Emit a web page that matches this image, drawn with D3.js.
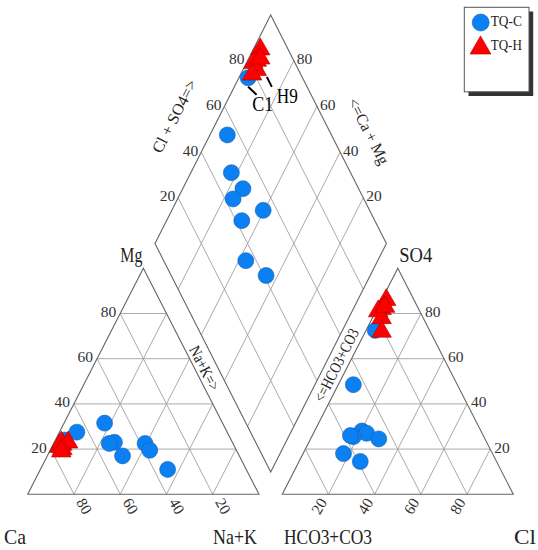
<!DOCTYPE html>
<html><head><meta charset="utf-8">
<script src="https://cdn.jsdelivr.net/npm/d3@7"></script>
<style>body{margin:0;background:#fff}</style>
</head><body>
<script>
// ---- data (percent) ----
const seriesNames = ["TQ-C", "TQ-H"];
const tickValues = [20, 40, 60, 80];
// TQ-C cations
const cCa  = [72, 65, 51, 51, 53.5, 38, 50.5, 37.5, 34];
const cMg  = [24, 27.5, 31.5, 23, 22.5, 22.5, 17, 19.5, 11];
const cNaK = [4, 7.5, 17.5, 26, 24, 39.5, 32.5, 43, 55];
// TQ-C anions
const cHCO3 = [23.5, 45, 51.5, 50, 56.5, 46, 57.5, 64.5, 59];
const cSO4  = [72.5, 48.5, 28, 27, 25.5, 24.5, 26, 18, 14.5];
const cCl   = [4, 6.5, 20.5, 23, 18, 29.5, 16.5, 17.5, 26.5];
// TQ-H cations
const hCa  = [76, 74, 74, 71, 75, 76];
const hMg  = [21, 22, 23, 23, 20, 19];
const hNaK = [3, 4, 3, 6, 5, 5];
// TQ-H anions
const hHCO3 = [12, 16, 18, 18, 21, 14];
const hSO4  = [86, 82, 81, 78, 72, 83];
const hCl   = [2, 2, 1, 4, 7, 3];
// point labels
const labelText = ["C1", "H9"];

// ---- layout ----
const W = 538, H = 550;
const svg = d3.select("body").append("svg").attr("width", W).attr("height", H);
const FONT = "'Liberation Serif','DejaVu Serif',serif";

const xL = d3.scaleLinear().domain([0, 1]).range([27.7, 259]);
const xR = d3.scaleLinear().domain([0, 1]).range([282.3, 513.3]);
const yT = d3.scaleLinear().domain([0, 1]).range([494.3, 268.3]);
const xD = d3.scaleLinear().domain([-1, 1]).range([155, 386.4]);
const yD = d3.scaleLinear().domain([0, 2]).range([472, 15]);

const cat = (mg, nak) => [xL(nak / 100 + mg / 200), yT(mg / 100)];
const an = (so4, cl) => [xR(cl / 100 + so4 / 200), yT(so4 / 100)];
const dia = (nak, sc) => { const a = 1 - nak / 100, b = sc / 100; return [xD(b - a), yD(a + b)]; };

const gridG = svg.append("g").attr("fill", "none").attr("stroke", "#a0a0a0").attr("stroke-width", 0.9);
const line = (g, p, q) => g.append("line").attr("x1", p[0]).attr("y1", p[1]).attr("x2", q[0]).attr("y2", q[1]);

tickValues.forEach(k => {
  line(gridG, cat(k, 0), cat(k, 100 - k));
  line(gridG, cat(0, k), cat(100 - k, k));
  line(gridG, cat(0, 100 - k), cat(100 - k, 0));
  line(gridG, an(k, 0), an(k, 100 - k));
  line(gridG, an(0, k), an(100 - k, k));
  line(gridG, an(0, 100 - k), an(100 - k, 0));
  line(gridG, dia(100 - k, 0), dia(100 - k, 100));
  line(gridG, dia(0, k), dia(100, k));
});

const outG = svg.append("g").attr("fill", "none").attr("stroke", "#666").attr("stroke-width", 1.1);
outG.append("path").attr("d", d3.line()([cat(0, 0), cat(0, 100), cat(100, 0)]) + "Z");
outG.append("path").attr("d", d3.line()([an(0, 0), an(0, 100), an(100, 0)]) + "Z");
outG.append("path").attr("d", d3.line()([dia(100, 0), dia(0, 0), dia(0, 100), dia(100, 100)]) + "Z");

// text helper with SimSun-like half-width glyphs
function txt(x, y, s, fs, opts = {}) {
  const t = svg.append("text").attr("x", x).attr("y", y).text(s)
    .attr("font-family", FONT).attr("font-size", fs)
    .attr("fill", opts.fill || "#222")
    .attr("text-anchor", opts.anchor || "start")
    .attr("dominant-baseline", opts.base || "auto");
  if (opts.tl !== false) t.attr("textLength", s.length * fs * (opts.w || 0.5)).attr("lengthAdjust", "spacingAndGlyphs");
  if (opts.rot !== undefined) t.attr("transform", `rotate(${opts.rot},${x},${y})`);
  return t;
}

const TF = 15.5, TC = "#333";
tickValues.forEach(k => {
  let p = cat(k, 0); txt(p[0] - 4, p[1], String(k), TF, { anchor: "end", base: "middle", fill: TC });
  p = cat(0, 100 - k); txt(p[0] + 5, p[1] + 6, String(k), TF, { base: "middle", rot: 60, fill: TC });
  p = an(k, 100 - k); txt(p[0] + 4, p[1], String(k), TF, { base: "middle", fill: TC });
  p = an(0, k); txt(p[0] - 4, p[1] + 6, String(k), TF, { anchor: "end", base: "middle", rot: -60, fill: TC });
  p = dia(0, k); txt(p[0] - 3, p[1], String(k), TF, { anchor: "end", base: "middle", fill: TC });
  p = dia(100 - k, 100); txt(p[0] + 3, p[1], String(k), TF, { base: "middle", fill: TC });
});

// axis titles along edges
const AF = 16;
txt(176, 117, "Cl + SO4=>", AF, { anchor: "middle", base: "middle", rot: -63 });
txt(367, 132, "<=Ca + Mg", AF, { anchor: "middle", base: "middle", rot: 63 });
txt(203, 369, "Na+K=>", AF, { anchor: "middle", base: "middle", rot: 63 });
txt(338, 366, "<=HCO3+CO3", AF, { anchor: "middle", base: "middle", rot: -63 });

// corner labels
const CF = 22;
txt(cat(100, 0)[0] - 12, 262, "Mg", CF, { anchor: "middle" });
txt(15, 544, "Ca", CF, { anchor: "middle" });
txt(235, 544, "Na+K", CF, { anchor: "middle" });
txt(an(100, 0)[0] + 18, 262, "SO4", CF, { anchor: "middle" });
txt(328, 544, "HCO3+CO3", CF, { anchor: "middle" });
txt(525, 544, "Cl", CF, { anchor: "middle" });

// ---- points ----
const BLUE = "#0a80f2", RED = "#ff0000";
const circ = d3.symbol().type(d3.symbolCircle).size(Math.PI * 8 * 8);
const tri = d3.symbol().type(d3.symbolTriangle).size(165);
const ptG = svg.append("g");
function drawPts(list, sym, fill, stroke) {
  ptG.selectAll(null).data(list).enter().append("path")
    .attr("d", sym).attr("transform", d => `translate(${d[0]},${d[1]})`)
    .attr("fill", fill).attr("stroke", stroke).attr("stroke-width", 0.6);
}
const cIdx = d3.range(cCa.length), hIdx = d3.range(hCa.length);
const cPts = [].concat(
  cIdx.map(i => cat(cMg[i], cNaK[i])),
  cIdx.map(i => an(cSO4[i], cCl[i])),
  cIdx.map(i => dia(cNaK[i], cSO4[i] + cCl[i])));
const hPts = [].concat(
  hIdx.map(i => cat(hMg[i], hNaK[i])),
  hIdx.map(i => an(hSO4[i], hCl[i])),
  hIdx.map(i => dia(hNaK[i], hSO4[i] + hCl[i])));
drawPts(cPts, circ, BLUE, "#1a5fb0");
drawPts(hPts, tri, RED, "#b00000");

// point annotations
const annG = svg.append("g").attr("stroke", "#000").attr("stroke-width", 2);
let pc = dia(cNaK[0], cSO4[0] + cCl[0]);
line(annG, [pc[0], pc[1] + 9], [pc[0] + 8.5, pc[1] + 17]);
txt(pc[0] + 4, pc[1] + 33.5, labelText[0], 21, { fill: "#000" });
let ph = dia(hNaK[3], hSO4[3] + hCl[3]);
line(annG, [ph[0] + 10, ph[1] + 7], [ph[0] + 15, ph[1] + 17]);
txt(ph[0] + 20, ph[1] + 33, labelText[1], 21, { fill: "#000" });

// ---- legend ----
const lg = svg.append("g");
lg.append("rect").attr("x", 468.5).attr("y", 11.5).attr("width", 64.7).attr("height", 84.5).attr("fill", "#333");
lg.append("rect").attr("x", 464.3).attr("y", 7.3).attr("width", 64.7).attr("height", 84.5)
  .attr("fill", "#fff").attr("stroke", "#555").attr("stroke-width", 1);
lg.append("path").attr("d", d3.symbol().type(d3.symbolCircle).size(Math.PI * 8.5 * 8.5)).attr("transform", "translate(480.7,22.5)").attr("fill", BLUE).attr("stroke", "#1a5fb0").attr("stroke-width", 0.6);
lg.append("path").attr("d", d3.symbol().type(d3.symbolTriangle).size(190)).attr("transform", "translate(480.5,48)").attr("fill", RED).attr("stroke", "#b00000").attr("stroke-width", 0.6);
txt(490.7, 22.5, seriesNames[0], 15, { base: "middle", fill: "#222", w: 0.52 });
txt(490.7, 46.5, seriesNames[1], 15, { base: "middle", fill: "#222", w: 0.52 });
</script>
</body></html>
